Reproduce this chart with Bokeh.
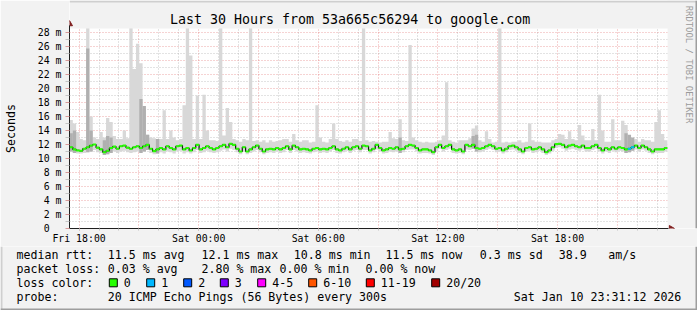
import math
from bokeh.plotting import figure
from bokeh.layouts import column
from bokeh.models import Range1d, FixedTicker, Grid
from bokeh.core.properties import value
from bokeh.embed import file_html
from bokeh.resources import INLINE

# ---------------- data ----------------
title_text = "Last 30 Hours from 53a665c56294 to google.com"
watermark_text = "RRDTOOL / TOBI OETIKER"
y_title = "Seconds"
start_hour = 17.52          # Fri 17:31:12, hours after Fri 00:00
span_hours = 30.0
step_hours = 10 / 60.0      # one value per 10 minutes

median_ms = [
    11.6, 11.3, 11.15, 11.1, 11.4, 11.6, 11.85, 12.0, 11.55, 11.3,
    10.9, 11.1, 11.5, 11.7, 11.4, 11.75, 11.85, 11.55, 11.4, 11.6,
    11.75, 11.5, 11.75, 11.95, 11.4, 11.05, 11.3, 11.5, 11.3, 11.75,
    11.5, 11.3, 11.75, 11.85, 11.3, 11.5, 11.15, 11.5, 11.95, 11.3,
    11.5, 11.75, 11.5, 11.3, 11.5, 11.75, 11.95, 11.6, 12.1, 11.95,
    11.4, 11.0, 11.6, 11.0, 11.3, 11.6, 11.85, 11.4, 11.0, 11.3,
    11.4, 11.3, 11.5, 11.3, 11.5, 11.75, 11.3, 11.85, 11.6, 11.3,
    11.4, 11.3, 11.15, 11.4, 11.5, 11.3, 11.4, 11.3, 11.5, 11.75,
    11.3, 11.15, 11.4, 11.6, 11.3, 11.6, 11.75, 11.4, 11.85, 11.75,
    11.15, 11.4, 11.95, 11.5, 11.15, 11.3, 11.5, 11.4, 11.6, 11.3,
    11.4, 11.75, 11.95, 11.85, 11.5, 11.15, 11.3, 11.3, 11.15, 10.9,
    11.6, 11.95, 11.5, 11.75, 11.95, 11.3, 11.15, 11.3, 11.0, 11.95,
    11.75, 11.95, 11.5, 11.4, 11.5, 11.75, 11.95, 11.75, 11.4, 11.5,
    11.15, 11.4, 11.75, 11.85, 11.6, 11.3, 11.0, 11.5, 11.6, 11.3,
    11.4, 11.6, 11.3, 10.9, 11.15, 11.6, 12.05, 12.1, 11.95, 11.6,
    11.85, 11.95, 11.75, 11.6, 11.85, 11.5, 11.5, 11.75, 11.95, 11.5,
    11.15, 11.5, 11.3, 11.6, 11.4, 11.6, 11.5, 11.3, 11.4, 11.6,
    11.85, 11.5, 11.85, 11.6, 11.3, 11.0, 11.3, 11.3, 11.3, 11.5,
]

smoke_min_ms = [
    11.0, 10.8, 10.7, 10.7, 10.8, 10.9, 11.0, 11.2, 10.9, 10.8,
    10.5, 10.6, 10.8, 11.0, 10.8, 11.0, 11.1, 10.9, 10.8, 10.9,
    11.0, 10.8, 11.0, 11.2, 10.8, 10.6, 10.7, 10.9, 10.7, 11.0,
    10.9, 10.7, 11.0, 11.1, 10.7, 10.9, 10.7, 10.9, 11.2, 10.8,
    10.9, 11.1, 10.9, 10.8, 10.9, 11.1, 11.3, 11.0, 11.4, 11.2,
    10.9, 10.6, 11.0, 10.6, 10.8, 11.0, 11.2, 10.9, 10.6, 10.8,
    10.9, 10.8, 11.0, 10.8, 10.9, 11.2, 10.8, 11.2, 11.0, 10.8,
    10.9, 10.8, 10.7, 10.9, 11.0, 10.8, 10.9, 10.8, 11.0, 11.2,
    10.8, 10.7, 10.9, 11.1, 10.8, 11.1, 11.2, 10.9, 11.2, 11.2,
    10.7, 10.9, 11.3, 11.0, 10.7, 10.8, 11.0, 10.9, 11.0, 10.8,
    10.9, 11.2, 11.3, 11.3, 11.0, 10.7, 10.8, 10.8, 10.7, 10.5,
    11.0, 11.4, 11.0, 11.2, 11.4, 10.8, 10.7, 10.8, 10.6, 11.3,
    11.2, 11.4, 11.0, 10.9, 11.0, 11.2, 11.4, 11.2, 10.9, 11.0,
    10.7, 10.9, 11.2, 11.3, 11.1, 10.8, 10.6, 11.0, 11.1, 10.8,
    10.9, 11.1, 10.8, 10.5, 10.7, 11.1, 11.5, 11.6, 11.4, 11.1,
    11.3, 11.4, 11.2, 11.1, 11.3, 11.0, 11.0, 11.2, 11.4, 11.0,
    10.7, 11.0, 10.8, 11.1, 10.9, 11.1, 11.0, 10.8, 10.9, 11.1,
    11.3, 11.0, 11.3, 11.1, 10.8, 10.6, 10.8, 10.8, 10.8, 11.0,
]

smoke_max_ms = [
    15.5, 15.0, 13.8, 12.8, 12.6, 30.0, 16.0, 13.0, 12.8, 13.8,
    13.0, 15.8, 15.2, 13.2, 12.8, 12.8, 14.0, 12.9, 30.0, 22.8,
    26.4, 23.6, 17.0, 13.4, 13.0, 12.9, 12.8, 12.8, 16.9, 12.8,
    14.0, 13.0, 12.6, 12.8, 17.6, 30.0, 24.7, 12.8, 19.0, 12.8,
    19.1, 14.0, 12.6, 12.6, 12.5, 30.0, 13.3, 17.2, 15.2, 12.8,
    12.6, 12.4, 12.8, 12.6, 30.0, 12.5, 12.6, 12.4, 12.6, 12.3,
    12.6, 12.4, 12.5, 12.6, 12.8, 12.8, 12.4, 13.5, 12.6, 12.4,
    12.6, 12.6, 12.3, 12.4, 17.6, 13.0, 12.4, 12.3, 12.8, 15.0,
    12.8, 12.5, 12.4, 12.6, 12.4, 12.8, 12.8, 12.5, 30.0, 12.6,
    12.4, 12.5, 12.4, 12.3, 12.4, 12.4, 13.8, 12.9, 12.8, 15.6,
    12.6, 12.5, 26.2, 13.0, 12.6, 12.4, 12.3, 12.4, 12.3, 12.3,
    12.4, 12.6, 13.3, 20.9, 12.6, 12.4, 12.3, 12.6, 12.6, 12.6,
    12.9, 14.3, 14.7, 12.6, 12.4, 13.9, 12.8, 12.3, 12.4, 30.0,
    12.3, 12.4, 12.3, 12.4, 12.4, 12.6, 12.3, 12.4, 15.0, 12.6,
    12.4, 12.4, 12.3, 12.3, 12.3, 12.6, 12.8, 13.5, 13.4, 12.8,
    13.9, 12.8, 12.6, 14.8, 13.3, 12.6, 12.6, 14.2, 12.6, 19.1,
    14.0, 12.4, 12.4, 15.6, 12.6, 12.6, 15.4, 14.8, 12.6, 12.6,
    12.8, 12.4, 12.8, 12.6, 12.6, 12.4, 15.2, 16.9, 13.5, 12.6,
]

dark_idx = [0, 1, 5, 6, 10, 11, 12, 21, 22, 23, 26, 99, 121, 122, 167, 168, 169]
dark_top_ms = [13.6, 14.0, 25.7, 14.0, 12.6, 13.2, 13.0, 18.5, 17.5, 13.4, 12.8,
               13.0, 13.2, 13.4, 13.6, 13.4, 13.0]

loss_idx = [168, 169]
loss_count = [1, 1]

x_tick_pos = [18, 24, 30, 36, 42]
x_tick_labels = ["Fri 18:00", "Sat 00:00", "Sat 06:00", "Sat 12:00", "Sat 18:00"]
y_tick_pos = [0, 2, 4, 6, 8, 10, 12, 14, 16, 18, 20, 22, 24, 26, 28]
y_tick_labels = ["0", "2 m", "4 m", "6 m", "8 m", "10 m", "12 m", "14 m", "16 m",
                 "18 m", "20 m", "22 m", "24 m", "26 m", "28 m"]

rtt_stats = ["11.5 ms avg", "12.1 ms max", "10.8 ms min", "11.5 ms now", "0.3 ms sd", "38.9", "am/s"]
loss_stats = ["0.03 % avg", "2.80 % max", "0.00 % min", "0.00 % now"]
loss_legend_labels = ["0", "1", "2", "3", "4-5", "6-10", "11-19", "20/20"]
loss_legend_colors = ["#26ff00", "#00b8ff", "#0059ff", "#7e00ff", "#ff00ff", "#ff5500", "#ff0000", "#a10000"]
row_titles = ["median rtt:", "packet loss:", "loss color:", "probe:"]
probe_text = "20 ICMP Echo Pings (56 Bytes) every 300s"
stamp_text = "Sat Jan 10 23:31:12 2026"

# ---------------- layout constants (pixels) ----------------
W = 697
TOP_H = 246                    # chart part: title, canvas, time axis
LEG_H = 310 - TOP_H            # legend part
FL, FB = 67, 228               # canvas left / bottom in page pixels
PX_H = 20.0                    # pixels per hour
PX_MS = 7.0                    # pixels per ms
CANVAS_TOP = 28
MONO = "DejaVu Sans Mono"
BACK = "#F2F2F2"
SHADE_A, SHADE_B = "#CFCFCF", "#9E9E9E"
ARROW_COL = "#801F1F"


def hx(px):   # page x pixel -> hours
    return start_hour + (px - FL) / PX_H


def my(py):   # page y pixel -> ms
    return (FB - py) / PX_MS


p = figure(width=W, height=TOP_H, output_backend="svg", toolbar_location=None,
           x_range=Range1d(hx(FL), hx(W)), y_range=Range1d(my(FB), my(0)),
           min_border_left=FL, min_border_right=0, min_border_top=0,
           min_border_bottom=TOP_H - FB, background_fill_color="#FFFFFF",
           border_fill_color=BACK)
p.frame_align = False
p.outline_line_color = None
p.xgrid.visible = False
p.ygrid.visible = False

hours = list(range(18, 48))
minor_h = [h for h in hours if h % 3 != 0]
major_h = [h for h in hours if h % 3 == 0]
grid_gray = dict(grid_line_color="#8F8F8F", grid_line_alpha=0.5, grid_line_dash="1 2")
grid_red = dict(grid_line_color="#DE4F4F", grid_line_alpha=0.5, grid_line_dash="1 2")
p.add_layout(Grid(dimension=0, ticker=FixedTicker(ticks=minor_h), **grid_gray))
p.add_layout(Grid(dimension=0, ticker=FixedTicker(ticks=major_h), **grid_red))
p.add_layout(Grid(dimension=1, ticker=FixedTicker(ticks=list(range(1, 29, 2))), **grid_gray))
p.add_layout(Grid(dimension=1, ticker=FixedTicker(ticks=list(range(2, 29, 2))), **grid_red))

xa = p.xaxis[0]
xa.ticker = FixedTicker(ticks=x_tick_pos, minor_ticks=hours)
xa.major_label_overrides = dict(zip(x_tick_pos, x_tick_labels))
xa.bounds = (start_hour, hx(668))
ya = p.yaxis[0]
ya.ticker = FixedTicker(ticks=y_tick_pos, minor_ticks=list(range(1, 29, 2)))
ya.major_label_overrides = dict(zip(y_tick_pos, [y_tick_labels[0] + "\u00a0\u00a0"] + y_tick_labels[1:]))
ya.bounds = (0, my(25))
# the axis label is centred on the whole (taller) frame; trailing no-break spaces
# push the visible word down to the middle of the white canvas
ya.axis_label = y_title + "\u00a0" * 4
ya.axis_label_text_font = MONO
ya.axis_label_text_font_size = "11.6px"
ya.axis_label_text_font_style = "normal"
ya.axis_label_text_color = "#000000"
ya.axis_label_standoff = 17
for ax in (xa, ya):
    ax.axis_line_color = "#1F1F1F"
    ax.major_label_text_font = MONO
    ax.major_label_text_font_size = "9.85px"
    ax.major_label_text_color = "#000000"
    ax.major_tick_in = 0
    ax.minor_tick_in = 0
    ax.major_tick_line_color = "#D89A9A"
    ax.minor_tick_line_color = "#C4C4C4"
xa.major_tick_out = 2
xa.minor_tick_out = 2
xa.major_label_standoff = 2
ya.major_tick_out = 4
ya.minor_tick_out = 4
ya.major_label_standoff = 4

# ---------------- chart glyphs ----------------
n = len(median_ms)
edges = [start_hour + i * step_hours for i in range(n + 1)]

p.varea_step(x=edges, y1=smoke_min_ms + smoke_min_ms[-1:], y2=smoke_max_ms + smoke_max_ms[-1:],
             step_mode="after", fill_color="#D8D8D8")
p.quad(left=[edges[i] for i in dark_idx], right=[edges[i + 1] for i in dark_idx],
       bottom=[smoke_min_ms[i] for i in dark_idx], top=dark_top_ms,
       fill_color="#B0B0B0", line_color=None)

p.step(x=edges, y=median_ms + median_ms[-1:], mode="after", line_color="#101010", line_width=1.2)
band = 0.15
p.varea_step(x=edges, y1=[m - band for m in median_ms + median_ms[-1:]],
             y2=[m + band for m in median_ms + median_ms[-1:]],
             step_mode="after", fill_color=loss_legend_colors[0])
p.quad(left=[edges[i] for i in loss_idx], right=[edges[i + 1] for i in loss_idx],
       bottom=[median_ms[i] - band for i in loss_idx], top=[median_ms[i] + band for i in loss_idx],
       fill_color=[loss_legend_colors[c] for c in loss_count], line_color=None)

# background outside the white canvas (top strip and right strip)
p.quad(left=[hx(FL), start_hour + span_hours], right=[hx(W), hx(W)],
       bottom=[my(CANVAS_TOP), my(FB)], top=[my(0), my(0)], fill_color=BACK, line_color=None)
# image frame shading
p.quad(left=[hx(FL), hx(W - 2)], right=[hx(W), hx(W)], bottom=[my(2), my(FB)], top=[my(0), my(0)],
       fill_color=[SHADE_A, SHADE_B], line_color=None)

# axis arrow heads
p.scatter(x=[start_hour], y=[my(23.5)], marker="triangle", size=6, fill_color=ARROW_COL,
          line_color=ARROW_COL)
p.scatter(x=[hx(670.5)], y=[0], marker="triangle", angle=-math.pi / 2, size=6,
          fill_color=ARROW_COL, line_color=ARROW_COL)

# title and watermark
p.text(x=[hx(348.5)], y=[my(19)], text=[title_text], text_font=value(MONO),
       text_font_size=value("13.3px"), text_align="center", text_baseline="middle",
       text_color="#000000")
p.text(x=[hx(688.5)], y=[my(64)], text=[watermark_text], text_font=value(MONO),
       text_font_size=value("8.9px"), text_align="center", text_baseline="middle",
       text_color="#9A9A9A", angle=-math.pi / 2)

# ---------------- legend part ----------------
q = figure(width=W, height=LEG_H, output_backend="svg", toolbar_location=None,
           x_range=Range1d(0, W), y_range=Range1d(310, TOP_H),
           x_axis_location=None, y_axis_location=None,
           min_border_left=0, min_border_right=0, min_border_top=0, min_border_bottom=0,
           background_fill_color=BACK, border_fill_color=BACK)
q.frame_align = False
q.outline_line_color = None
q.xgrid.visible = False
q.ygrid.visible = False

rows_y = [254.3, 268.3, 282.3, 296.2]
LS = value("11.6px")
txt, tx, ty = [], [], []


def put(t, x, y):
    txt.append(t)
    tx.append(x)
    ty.append(y)


for t, y in zip(row_titles, rows_y):
    put(t, 16, y)
for t, x in zip(rtt_stats, [107.3, 201, 293.3, 385, 479.3, 558.3, 607.7]):
    put(t, x, rows_y[0])
for t, x in zip(loss_stats, [107.3, 201, 279, 365]):
    put(t, x, rows_y[1])
box_x = [108.3, 145.7, 182.7, 219.3, 256.7, 307.7, 365.3, 430.7]
for t, bx in zip(loss_legend_labels, box_x):
    put(t, bx + 15, rows_y[2])
put(probe_text, 107.3, rows_y[3])
put(stamp_text, 513.3, rows_y[3])

q.text(x=tx, y=ty, text=txt, text_font=value(MONO), text_font_size=LS,
       text_align="left", text_baseline="middle", text_color="#000000")
q.quad(left=[b + 0.5 for b in box_x], right=[b + 8.5 for b in box_x],
       top=[rows_y[2] - 4] * len(box_x), bottom=[rows_y[2] + 4] * len(box_x),
       fill_color=loss_legend_colors, line_color="#000000", line_width=1)
# frame shading
q.quad(left=[0, 0, W - 2], right=[2, W, W], top=[TOP_H, 308, TOP_H], bottom=[310, 310, 310],
       fill_color=[SHADE_A, SHADE_B, SHADE_B], line_color=None)

layout = column(p, q, spacing=0)
open("out.html", "w").write(file_html(layout, INLINE))
